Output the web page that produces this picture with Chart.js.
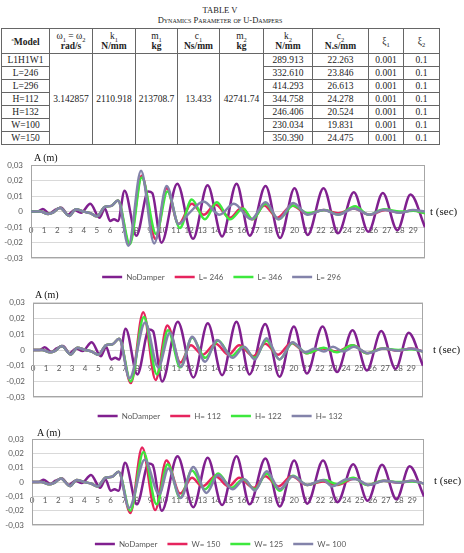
<!DOCTYPE html>
<html>
<head>
<meta charset="utf-8">
<script src="https://cdn.jsdelivr.net/npm/chart.js@4.4.0/dist/chart.umd.min.js"></script>
<style>
  body { margin: 0; width: 464px; height: 553px; background: #fff; position: relative; overflow: hidden; font-family: "Liberation Serif", serif; }
  .cap { position: absolute; left: 0; width: 440px; text-align: center; color: #222; }
  #cap1 { top: 5px; font-size: 8.5px; }
  #cap2 { top: 15px; font-size: 8.5px; font-variant: small-caps; }
  table { position: absolute; left: 1px; top: 28px; border-collapse: collapse; table-layout: fixed; width: 438px; font-size: 9.5px; color: #222; }
  td, th { border: 1px solid #666; padding: 0; text-align: center; line-height: 10px; }
  th { font-weight: normal; height: 24px; }
  td { height: 12px; }
  th sub, td sub { font-size: 6.5px; line-height: 0; }
  .box { position: absolute; width: 464px; }
  .lab { position: absolute; color: #111; white-space: nowrap; font-family: "Liberation Serif", serif; }
</style>
</head>
<body>
<div class="cap" id="cap1">TABLE V</div>
<div class="cap" id="cap2">Dynamics Parameter of U-Dampers</div>
<table id="tbl">
  <colgroup>
    <col style="width:48px"><col style="width:43px"><col style="width:43px"><col style="width:42px"><col style="width:42px">
    <col style="width:44px"><col style="width:49px"><col style="width:56px"><col style="width:35px"><col style="width:36px">
  </colgroup>
  <tr>
    <th><sup style="font-size:5px">a</sup><b>Model</b></th>
    <th>ω<sub>1</sub> = ω<sub>2</sub><br><b>rad/s</b></th>
    <th>k<sub>1</sub><br><b>N/mm</b></th>
    <th>m<sub>1</sub><br><b>kg</b></th>
    <th>c<sub>1</sub><br><b>Ns/mm</b></th>
    <th>m<sub>2</sub><br><b>kg</b></th>
    <th>k<sub>2</sub><br><b>N/mm</b></th>
    <th>c<sub>2</sub><br><b>N.s/mm</b></th>
    <th>ξ<sub>1</sub></th>
    <th>ξ<sub>2</sub></th>
  </tr>
</table>

<div class="box" style="left:0;top:150px;height:141px"><canvas id="c1"></canvas></div>
<div class="box" style="left:0;top:290px;height:140px"><canvas id="c2"></canvas></div>
<div class="box" style="left:0;top:425px;height:133px"><canvas id="c3"></canvas></div>

<div class="lab" style="left:34px;top:152px;font-size:10px">A (m)</div>
<div class="lab" style="left:430px;top:205px;font-size:11px">t (sec)</div>
<div class="lab" style="left:35px;top:289px;font-size:10px">A (m)</div>
<div class="lab" style="left:433px;top:343px;font-size:11px">t (sec)</div>
<div class="lab" style="left:37px;top:427px;font-size:10px">A (m)</div>
<div class="lab" style="left:434px;top:474px;font-size:11px">t (sec)</div>

<script>
// table V
const models = ['L1H1W1', 'L=246', 'L=296', 'H=112', 'H=132', 'W=100', 'W=150'];
const shared = ['3.142857', '2110.918', '213708.7', '13.433', '42741.74'];
const k2 = ['289.913', '332.610', '414.293', '344.758', '246.406', '230.034', '350.390'];
const c2 = ['22.263', '23.846', '26.613', '24.278', '20.524', '19.831', '24.475'];
const xi1 = '0.001';
const xi2 = '0.1';

// time series, [t (sec), A (m)]
const noDamper = [[0,0],[0.5,0],[0.9,0.0017],[1.4,-0.0013],[1.8,0.001],[2.3,0.0025],[2.8,-0.002],[3.3,0.001],[3.8,-0.0007],
  [4.5,0.005],[5.2,-0.004],[5.6,0.002],[6.0,-0.006],[6.3,-0.005],[6.6,-0.006],[7.1,0.0135],[8.0,-0.0155],[8.9,0.013],[9.2,0.012],
  [9.9,-0.02],[11.1,0.018],[12.3,-0.0175],[13.4,0.017],[14.5,-0.016],[15.6,0.018],[16.6,-0.0155],[17.8,0.0165],[18.9,-0.017],
  [20.0,0.015],[21.0,-0.015],[22.2,0.015],[23.3,-0.014],[24.5,0.0125],[25.6,-0.013],[26.7,0.012],[27.8,-0.012],[28.8,0.011],[29.9,-0.01]];

const dampedStart = [[0,0],[0.7,0],[1.3,-0.0015],[1.7,-0.0005],[2.2,0.0025],[2.9,-0.0028],[3.4,0.0015],[4.0,0],[4.5,-0.001],
  [5.0,-0.003],[5.6,0.003],[6.1,0.0037],[6.6,0.0072]];

const l246 = dampedStart.concat([[7.45,-0.021],[8.4,0.023],[9.45,-0.0177],[10.3,0.015],[11.2,-0.008],[12.2,0.005],[13.1,-0.002],
  [14.0,0.0045],[15.1,-0.004],[16.0,0.0025],[16.8,-0.005],[17.7,0.004],[18.7,-0.004],[19.8,0.004],[21.0,-0.0015],[22.2,0.001],
  [23.3,-0.001],[24.5,0.002],[25.7,-0.002],[26.9,0.001],[28.0,-0.0005],[29.0,0.0008],[29.9,-0.001]]);
const l346 = dampedStart.concat([[7.5,-0.021],[8.4,0.022],[9.5,-0.0145],[10.35,0.013],[11.3,-0.0105],[12.2,0.0078],[13.2,-0.005],
  [14.1,0.006],[15.1,-0.005],[16.1,0.002],[16.8,-0.005],[17.8,0.005],[18.8,-0.005],[19.9,0.004],[21.0,-0.001],[22.3,0.001],
  [23.3,-0.002],[24.6,0.0035],[25.6,-0.002],[26.8,0.0015],[28.0,0],[29.0,0.0005],[29.9,-0.001]]);
const l296 = dampedStart.concat([[7.4,-0.022],[8.35,0.0263],[9.35,-0.0205],[10.3,0.0165],[11.2,-0.008],[12.0,-0.001],[13.1,0.0065],
  [14.3,-0.002],[15.4,0.005],[16.7,-0.005],[17.8,0.006],[18.8,-0.005],[19.9,0.0055],[21.0,-0.002],[22.2,0.001],[23.3,-0.002],
  [24.5,0.002],[25.7,-0.002],[26.8,0.0012],[28.0,-0.0008],[29.0,0.001],[29.9,0]]);

const h112 = dampedStart.concat([[7.5,-0.021],[8.45,0.024],[9.4,-0.019],[10.3,0.0155],[11.3,-0.008],[12.1,0.003],[13.0,-0.003],
  [14.0,0.004],[15.0,-0.003],[15.8,0.003],[16.9,-0.004],[17.8,0.004],[18.8,-0.003],[19.8,0.0045],[21.0,-0.002],[22.2,0.001],
  [23.3,-0.001],[24.5,0.003],[25.6,-0.002],[26.8,0.001],[28.0,-0.0005],[29.0,0.001],[29.9,-0.001]]);
const h122 = dampedStart.concat([[7.5,-0.02],[8.5,0.021],[9.5,-0.0155],[10.35,0.0125],[11.3,-0.011],[12.2,0.008],[13.2,-0.005],
  [14.2,0.006],[15.2,-0.004],[16.1,0.002],[17.0,-0.005],[17.9,0.006],[18.9,-0.006],[19.9,0.0045],[21.0,-0.002],[22.3,0.0015],
  [23.3,-0.0015],[24.5,0.003],[25.6,-0.002],[26.8,0.001],[28.0,0],[29.0,0.0005],[29.9,-0.001]]);
const h132 = dampedStart.concat([[7.4,-0.018],[8.6,0.0175],[9.6,-0.011],[10.5,0.011],[11.35,-0.0106],[12.2,0.0085],[13.2,-0.0075],
  [14.1,0.0063],[15.3,-0.005],[16.2,0.002],[17.0,-0.006],[17.9,0.0075],[18.9,-0.006],[19.9,0.005],[20.9,-0.0015],[21.6,0.001],
  [22.3,-0.001],[23.0,0.002],[23.8,-0.001],[24.6,0.002],[25.7,-0.002],[26.9,0.001],[28.0,-0.0005],[29.0,0.001],[29.9,-0.001]]);

const w150 = dampedStart.concat([[7.5,-0.0215],[8.4,0.024],[9.4,-0.0195],[10.25,0.015],[11.3,-0.008],[12.2,0.003],[13.0,-0.003],
  [14.0,0.004],[15.0,-0.003],[15.8,0.003],[16.9,-0.004],[17.8,0.004],[18.8,-0.003],[19.8,0.004],[21.0,-0.002],[22.2,0.0005],
  [23.3,-0.002],[24.6,0.0025],[25.6,-0.002],[26.8,0.001],[28.0,-0.0005],[29.0,0.001],[29.9,-0.001]]);
const w125 = dampedStart.concat([[7.5,-0.02],[8.5,0.021],[9.5,-0.0155],[10.35,0.0125],[11.3,-0.011],[12.2,0.008],[13.2,-0.005],
  [14.2,0.006],[15.2,-0.004],[16.1,0.002],[17.0,-0.005],[17.9,0.006],[18.9,-0.006],[19.9,0.0045],[21.0,-0.002],[22.3,0.0015],
  [23.3,-0.0015],[24.5,0.003],[25.6,-0.002],[26.8,0.001],[28.0,0],[29.0,0.0005],[29.9,-0.001]]);
const w100 = dampedStart.concat([[7.4,-0.018],[8.6,0.0155],[9.7,-0.0085],[10.4,0.0095],[11.35,-0.011],[12.3,0.0105],[13.3,-0.0075],
  [14.2,0.005],[15.3,-0.005],[16.2,0.002],[17.0,-0.006],[17.9,0.0075],[18.9,-0.005],[19.9,0.004],[21.0,-0.002],[22.2,0.0015],
  [22.9,-0.003],[24.0,0.002],[24.7,0.002],[25.7,-0.002],[26.9,0.001],[28.0,-0.0005],[29.0,0.001],[29.9,-0.001]]);

const yTicks = [-0.03, -0.02, -0.01, 0, 0.01, 0.02, 0.03];
const lineColors = ['#80208f', '#e6245e', '#3de83d', '#8383aa'];

// build table body
const tbl = document.getElementById('tbl');
models.forEach((m, i) => {
  const tr = document.createElement('tr');
  let html = '<td>' + m + '</td>';
  if (i === 0) {
    shared.forEach(v => { html += '<td rowspan="' + models.length + '">' + v + '</td>'; });
  }
  html += '<td>' + k2[i] + '</td><td>' + c2[i] + '</td><td>' + xi1 + '</td><td>' + xi2 + '</td>';
  tr.innerHTML = html;
  tbl.appendChild(tr);
});

const tickFont = { family: 'Lato', size: 8 };

const framePlugin = {
  id: 'frame',
  beforeDatasetsDraw(chart) {
    const a = chart.chartArea;
    const ctx = chart.ctx;
    ctx.save();
    ctx.strokeStyle = '#a6a6a6';
    ctx.lineWidth = 1;
    ctx.strokeRect(Math.round(a.left) + 0.5, Math.round(a.top) + 0.5, Math.round(a.width) - 1, Math.round(a.height) - 1);
    ctx.restore();
  }
};

// plotLeft/plotRight: chart area edges; legendRight: right edge of the legend box (legend is centred in 0..legendRight)
function makeChart(id, series, names, padTop, plotLeft, plotRight, legendRight) {
  new Chart(document.getElementById(id), {
    type: 'line',
    data: {
      datasets: series.map((s, i) => ({
        label: names[i],
        data: s.map(p => ({ x: p[0], y: p[1] })),
        borderColor: lineColors[i],
        backgroundColor: lineColors[i],
        borderWidth: 2.5,
        pointRadius: 0,
        cubicInterpolationMode: 'monotone',
        order: series.length - i
      }))
    },
    options: {
      responsive: true,
      maintainAspectRatio: false,
      animation: false,
      layout: { padding: { top: padTop, left: 0, right: 464 - legendRight, bottom: 0 } },
      plugins: {
        legend: {
          position: 'bottom',
          title: { display: true, text: '', padding: 0, font: { size: 4 } },
          labels: {
            usePointStyle: true,
            pointStyle: 'line',
            pointStyleWidth: 20,
            padding: 10,
            color: '#595959',
            font: tickFont,
            sort: (a, b) => a.datasetIndex - b.datasetIndex
          }
        },
        tooltip: { enabled: false }
      },
      scales: {
        x: {
          type: 'linear',
          min: 0,
          max: 29.9,
          position: { y: 0 },
          grid: { display: false },
          border: { display: false },
          ticks: { stepSize: 1, includeBounds: false, autoSkip: false, maxRotation: 0, padding: 6, color: '#595959', font: tickFont },
          afterFit: s => { s.height = 0; }
        },
        y: {
          min: yTicks[0],
          max: yTicks[yTicks.length - 1],
          grid: { color: '#d9d9d9', drawTicks: false },
          border: { display: false },
          ticks: {
            stepSize: 0.01,
            padding: 8,
            color: '#595959',
            font: tickFont,
            callback: v => Math.abs(v) < 1e-9 ? '0' : v.toFixed(2).replace('.', ',')
          },
          afterFit: s => { s.width = plotLeft; }
        },
        // empty right-hand axis, only reserves the gap between the plot and the "t (sec)" label
        yRight: {
          position: 'right',
          min: yTicks[0],
          max: yTicks[yTicks.length - 1],
          grid: { display: false },
          border: { display: false },
          ticks: { display: false },
          afterFit: s => { s.width = legendRight - plotRight; }
        }
      }
    },
    plugins: [framePlugin]
  });
}

makeChart('c1', [noDamper, l246, l346, l296], ['NoDamper', 'L= 246', 'L= 346', 'L= 296'], 15, 31, 425, 443);
makeChart('c2', [noDamper, h112, h122, h132], ['NoDamper', 'H= 112', 'H= 122', 'H= 132'], 12, 33, 423, 440);
makeChart('c3', [noDamper, w150, w125, w100], ['NoDamper', 'W= 150', 'W= 125', 'W= 100'], 14, 32, 424, 441);
</script>
</body>
</html>
